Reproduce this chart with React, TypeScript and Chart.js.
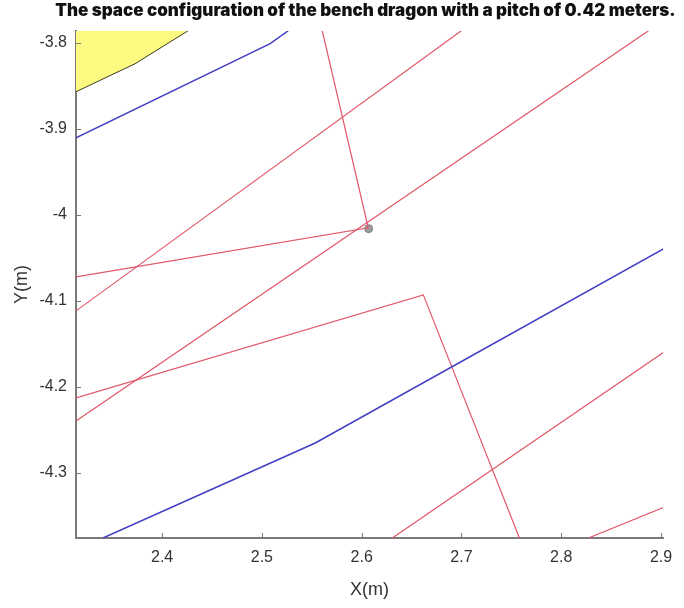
import { useEffect, useRef } from "react";
import { Chart, registerables } from "chart.js";

Chart.register(...registerables);

const chartTitle = "The space configuration of the bench dragon with a pitch of 0.42 meters.";
const xAxisTitle = "X(m)";
const yAxisTitle = "Y(m)";

const xTicks = [2.4, 2.5, 2.6, 2.7, 2.8, 2.9];
const yTicks = [-4.3, -4.2, -4.1, -4, -3.9, -3.8];
const xRange = [2.3137, 2.902];
const yRange = [-4.376, -3.786];

// Edge of the dragon-head zone; the area above it is shaded
const headEdge = [[2.3137, -3.8567], [2.3729, -3.8241], [2.4261, -3.7857]];
// Spiral arms passing through the window
const innerSpiral = [[2.3137, -3.9103], [2.5083, -3.8008], [2.5264, -3.7857]];
const outerSpiral = [[2.3408, -4.376], [2.5535, -4.2654], [2.9025, -4.0396]];
// Bench boards (polylines joined at handle points)
const boardA = [[2.5605, -3.7857], [2.6066, -4.0151], [2.3137, -4.0721]];
const boardB = [[2.6999, -3.7857], [2.3137, -4.1117]];
const boardC = [[2.8875, -3.7857], [2.3137, -4.2398]];
const boardD = [[2.3137, -4.213], [2.6618, -4.0931], [2.7581, -4.376]];
const boardE = [[2.6307, -4.376], [2.9034, -4.1594]];
const boardF = [[2.8273, -4.376], [2.9035, -4.34]];
const headHandle = [[2.607, -4.016]];

const toXY = (pts: number[][]) => pts.map(([x, y]) => ({ x, y }));
const fmt = (v: number) => Number(v).toFixed(1).replace(/\.0$/, "");

const AXIS_COLOR = "#7a7a7a";
const TEXT_COLOR = "#333333";
const RED = "rgb(226,86,104)";
const BLUE = "rgb(66,62,196)";

const innerTicksAndTitle = {
  id: "innerTicksAndTitle",
  afterDatasetsDraw(chart: any) {
    const { ctx, chartArea, scales } = chart;
    ctx.save();
    ctx.strokeStyle = AXIS_COLOR;
    ctx.lineWidth = 1;
    for (const v of xTicks) {
      const px = Math.round(scales.x.getPixelForValue(v)) + 0.5;
      ctx.beginPath();
      ctx.moveTo(px, chartArea.bottom);
      ctx.lineTo(px, chartArea.bottom - 5);
      ctx.stroke();
    }
    for (const v of yTicks) {
      const py = Math.round(scales.y.getPixelForValue(v)) + 0.5;
      ctx.beginPath();
      ctx.moveTo(chartArea.left, py);
      ctx.lineTo(chartArea.left + 5, py);
      ctx.stroke();
    }
    ctx.restore();
  },
  afterDraw(chart: any) {
    const { ctx, chartArea } = chart;
    ctx.save();
    ctx.fillStyle = "#111";
    ctx.font = "900 17px Inter";
    ctx.textAlign = "center";
    ctx.textBaseline = "middle";
    ctx.fillText(chartTitle, (chartArea.left + chartArea.right) / 2 - 4, 11);
    ctx.restore();
  },
};

export default function App() {
  const ref = useRef<HTMLCanvasElement>(null);

  useEffect(() => {
    if (!ref.current) return;
    const line = (pts: number[][], color: string, width: number) => ({
      data: toXY(pts),
      showLine: true,
      borderColor: color,
      borderWidth: width,
      pointRadius: 0,
      fill: false,
    });
    const chart = new Chart(ref.current, {
      type: "scatter",
      data: {
        datasets: [
          {
            ...line(headEdge, "#3b3b22", 1),
            fill: "end",
            backgroundColor: "rgb(252,250,128)",
          },
          line(innerSpiral, BLUE, 1.5),
          line(outerSpiral, BLUE, 1.5),
          line(boardA, RED, 1.2),
          line(boardB, RED, 1.2),
          line(boardC, RED, 1.2),
          line(boardD, RED, 1.2),
          line(boardE, RED, 1.2),
          line(boardF, RED, 1.2),
          {
            data: toXY(headHandle),
            pointRadius: 4,
            pointBackgroundColor: "rgba(140,140,140,0.85)",
            pointBorderColor: "rgba(120,120,120,0.9)",
            pointBorderWidth: 1,
          },
        ],
      },
      options: {
        animation: false,
        responsive: false,
        events: [],
        layout: { padding: { top: 31, right: 21, left: 0, bottom: 0 } },
        plugins: {
          legend: { display: false },
          tooltip: { enabled: false },
          title: { display: false },
        },
        scales: {
          x: {
            type: "linear",
            min: xRange[0],
            max: xRange[1],
            afterBuildTicks: (s: any) => {
              s.ticks = xTicks.map((value) => ({ value }));
            },
            afterFit: (s: any) => {
              s.height = 70;
            },
            grid: { display: true, drawOnChartArea: false, drawTicks: false, tickLength: 0 },
            border: { display: true, color: AXIS_COLOR, width: 2 },
            ticks: {
              autoSkip: false,
              maxRotation: 0,
              padding: 10,
              color: TEXT_COLOR,
              font: { family: "Liberation Sans", size: 16 },
              callback: (v: any) => fmt(v),
            },
            title: {
              display: true,
              text: xAxisTitle,
              color: TEXT_COLOR,
              font: { family: "Liberation Sans", size: 18 },
              padding: { top: 0, bottom: 7 },
            },
          },
          y: {
            type: "linear",
            min: yRange[0],
            max: yRange[1],
            afterBuildTicks: (s: any) => {
              s.ticks = yTicks.map((value) => ({ value }));
            },
            afterFit: (s: any) => {
              s.width = 76;
            },
            grid: { display: true, drawOnChartArea: false, drawTicks: false, tickLength: 0 },
            border: { display: true, color: AXIS_COLOR, width: 2 },
            ticks: {
              autoSkip: false,
              padding: 9,
              color: TEXT_COLOR,
              font: { family: "Liberation Sans", size: 16 },
              callback: (v: any) => fmt(v),
            },
            title: {
              display: true,
              text: yAxisTitle,
              color: TEXT_COLOR,
              font: { family: "Liberation Sans", size: 18 },
              padding: { top: 11, bottom: 0 },
            },
          },
        },
      },
      plugins: [innerTicksAndTitle],
    });
    return () => chart.destroy();
  }, []);

  return (
    <div style={{ position: "absolute", left: 0, top: 0, width: 684, height: 608, background: "#fff" }}>
      <canvas ref={ref} width={684} height={608} style={{ display: "block" }} />
    </div>
  );
}
